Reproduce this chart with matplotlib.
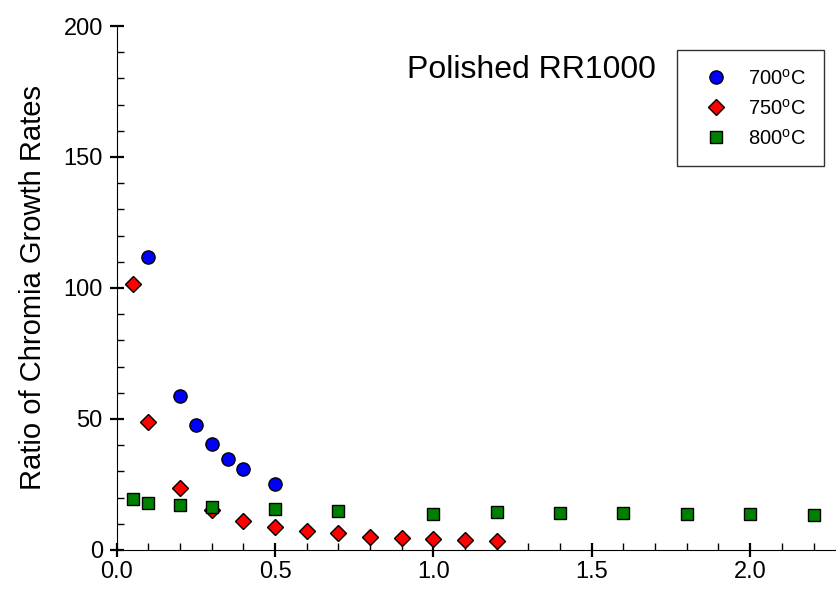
import numpy as np
import matplotlib.pyplot as plt
from matplotlib.ticker import MultipleLocator

plt.rcParams['font.family'] = ['Liberation Sans', 'DejaVu Sans']
plt.rcParams['mathtext.fontset'] = 'custom'
plt.rcParams['mathtext.rm'] = 'Liberation Sans'

# Growth-rate ratios vs. time for each exposure temperature
x_700 = [0.1, 0.2, 0.25, 0.3, 0.35, 0.4, 0.5]
y_700 = [112, 58.9, 47.7, 40.3, 34.9, 31.1, 25.1]

x_750 = [0.05, 0.1, 0.2, 0.3, 0.4, 0.5, 0.6, 0.7, 0.8, 0.9, 1.0, 1.1, 1.2]
y_750 = [101.4, 48.8, 23.5, 15.3, 11.2, 8.9, 7.3, 6.4, 5.1, 4.5, 4.1, 3.8, 3.4]

x_800 = [0.05, 0.1, 0.2, 0.3, 0.5, 0.7, 1.0, 1.2, 1.4, 1.6, 1.8, 2.0, 2.2]
y_800 = [19.5, 18.1, 17.1, 16.3, 15.8, 15.0, 13.9, 14.4, 14.2, 14.0, 13.8, 13.7, 13.5]

fig = plt.figure(figsize=(8.36, 5.91), dpi=100)
ax = fig.add_axes([0.1396, 0.0694, 0.8604, 0.8866])

ax.plot(x_700, y_700, 'o', color='blue', mec='black', mew=1.0, ms=9.5,
        label='700$^{\\mathrm{o}}$C')
ax.plot(x_750, y_750, 'D', color='red', mec='black', mew=1.0, ms=8,
        label='750$^{\\mathrm{o}}$C')
ax.plot(x_800, y_800, 's', color='green', mec='black', mew=1.0, ms=8.5,
        label='800$^{\\mathrm{o}}$C')

ax.set_xlim(0, 2.271)
ax.set_ylim(0, 200)
ax.xaxis.set_major_locator(MultipleLocator(0.5))
ax.xaxis.set_minor_locator(MultipleLocator(0.1))
ax.yaxis.set_major_locator(MultipleLocator(50))
ax.yaxis.set_minor_locator(MultipleLocator(10))
ax.set_xticks([0, 0.5, 1.0, 1.5, 2.0])
ax.set_xticklabels(['0.0', '0.5', '1.0', '1.5', '2.0'])

ax.spines['top'].set_visible(False)
ax.spines['right'].set_visible(False)
ax.tick_params(which='major', direction='inout', length=10, width=1.6,
               labelsize=17)
ax.tick_params(axis='x', which='major', pad=3)
ax.tick_params(axis='y', which='major', pad=5)
ax.tick_params(which='minor', direction='in', length=5, width=1.0)

ax.set_ylabel('Ratio of Chromia Growth Rates', fontsize=21, labelpad=12)
ax.text(0.576, 0.916, 'Polished RR1000', transform=ax.transAxes,
        fontsize=23, ha='center', va='center')

leg = ax.legend(loc='upper left', bbox_to_anchor=(0.779, 0.954), fontsize=14.5,
                frameon=True, fancybox=False, edgecolor='black',
                handlelength=2.05, handletextpad=0.56, borderpad=0.9,
                labelspacing=0.5, borderaxespad=0)
leg.get_frame().set_linewidth(1.0)

fig.savefig('out.png', dpi=100)
